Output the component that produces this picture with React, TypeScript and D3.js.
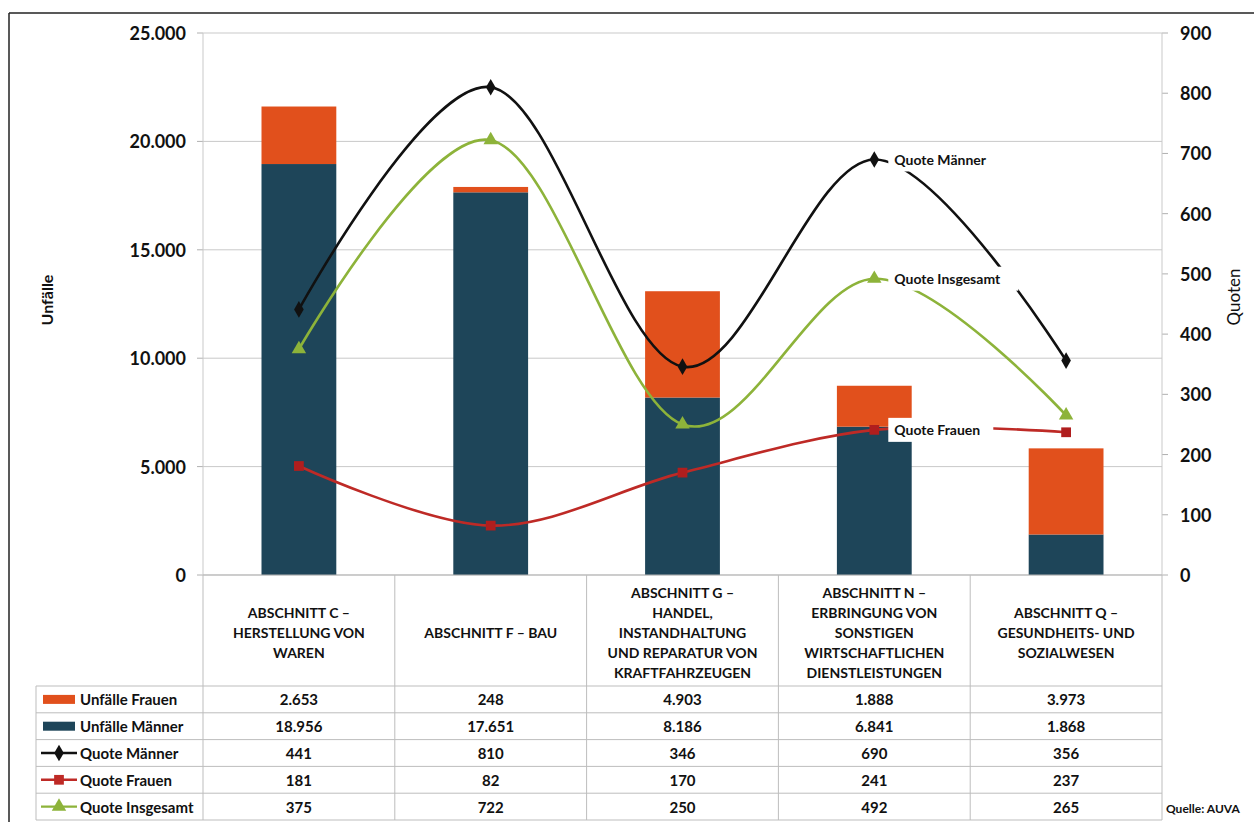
import * as d3 from 'd3'

const categories = ['C', 'F', 'G', 'N', 'Q']
const categoryLines = [
  ['ABSCHNITT C –', 'HERSTELLUNG VON', 'WAREN'],
  ['ABSCHNITT F – BAU'],
  ['ABSCHNITT G –', 'HANDEL,', 'INSTANDHALTUNG', 'UND REPARATUR VON', 'KRAFTFAHRZEUGEN'],
  ['ABSCHNITT N –', 'ERBRINGUNG VON', 'SONSTIGEN', 'WIRTSCHAFTLICHEN', 'DIENSTLEISTUNGEN'],
  ['ABSCHNITT Q –', 'GESUNDHEITS- UND', 'SOZIALWESEN'],
]
const unfaelleFrauen = [2653, 248, 4903, 1888, 3973]
const unfaelleMaenner = [18956, 17651, 8186, 6841, 1868]
const quoteMaenner = [441, 810, 346, 690, 356]
const quoteFrauen = [181, 82, 170, 241, 237]
const quoteInsgesamt = [375, 722, 250, 492, 265]
const leftTicks = [0, 5000, 10000, 15000, 20000, 25000]
const rightTicks = [0, 100, 200, 300, 400, 500, 600, 700, 800, 900]

const W = 1254
const H = 822
const FONT = 'Lato, "Open Sans", sans-serif'

const ORANGE = '#E1501C'
const NAVY = '#1E4559'
const BLACK = '#111111'
const RED = '#BE2A26'
const GREEN = '#8DB33A'

const de = d3.formatLocale({ decimal: ',', thousands: '.', grouping: [3], currency: ['', '€'] })
const fmt = de.format(',d')

export default function App() {
  const x = d3.scaleBand<string>().domain(categories).range([203, 1162])
  const bw = x.bandwidth()
  const barW = bw * 0.39
  const cx = (i: number) => (x(categories[i]) as number) + bw / 2
  const yL = d3.scaleLinear().domain([0, 25000]).range([575, 33])
  const yR = d3.scaleLinear().domain([0, 900]).range([575, 33])

  const stackData = categories.map((c, i) => ({ c, m: unfaelleMaenner[i], f: unfaelleFrauen[i] }))
  const stacked = d3.stack<any>().keys(['m', 'f'])(stackData)
  const barColor: Record<string, string> = { m: NAVY, f: ORANGE }

  const line = d3.line<number>()
    .x((_, i) => cx(i))
    .y(d => yR(d))
    .curve(d3.curveCardinal.tension(0))

  const diamond = d3.symbol().type(d3.symbolDiamond).size(80)()
  const square = d3.symbol().type(d3.symbolSquare).size(95)()
  const triangle = d3.symbol().type(d3.symbolTriangle).size(90)()

  const lines = [
    { name: 'Quote Frauen', values: quoteFrauen, color: RED, marker: square, mColor: '#B01E1E', boxW: 105 },
    { name: 'Quote Männer', values: quoteMaenner, color: BLACK, marker: diamond, mColor: BLACK, boxW: 112 },
    { name: 'Quote Insgesamt', values: quoteInsgesamt, color: GREEN, marker: triangle, mColor: GREEN, boxW: 130 },
  ]

  const rows = [
    { name: 'Unfälle Frauen', values: unfaelleFrauen, kind: 'bar', color: ORANGE, marker: '' },
    { name: 'Unfälle Männer', values: unfaelleMaenner, kind: 'bar', color: NAVY, marker: '' },
    { name: 'Quote Männer', values: quoteMaenner, kind: 'line', color: BLACK, marker: diamond },
    { name: 'Quote Frauen', values: quoteFrauen, kind: 'line', color: RED, marker: square },
    { name: 'Quote Insgesamt', values: quoteInsgesamt, kind: 'line', color: GREEN, marker: triangle },
  ]
  const rowY = d3.scaleBand<string>().domain(rows.map(r => r.name)).range([686, 820])
  const rh = rowY.bandwidth()
  const colEdges = d3.range(categories.length + 1).map(i => 203 + i * bw)

  const labelIdx = 3

  return (
    <svg width={W} height={H} style={{ position: 'absolute', left: 0, top: 0, background: '#fff' }} fontFamily={FONT}>
      {/* frame */}
      <line x1={9} x2={W} y1={13} y2={13} stroke="#222" strokeWidth={1.5} />
      <line x1={9} x2={9} y1={13} y2={H} stroke="#222" strokeWidth={1.5} />

      {/* gridlines */}
      {leftTicks.map(t => (
        <g key={t}>
          <line x1={203} x2={1162} y1={yL(t)} y2={yL(t)} stroke="#c9c9c9" strokeWidth={1} />
          <line x1={197} x2={203} y1={yL(t)} y2={yL(t)} stroke="#b0b0b0" />
          <text x={186} y={yL(t)} textAnchor="end" dominantBaseline="central" fontSize={18} fontWeight={700} fill="#111">
            {fmt(t)}
          </text>
        </g>
      ))}
      {rightTicks.map(t => (
        <g key={t}>
          <line x1={1162} x2={1168} y1={yR(t)} y2={yR(t)} stroke="#b0b0b0" />
          <text x={1180} y={yR(t)} dominantBaseline="central" fontSize={18} fontWeight={700} fill="#111">
            {t}
          </text>
        </g>
      ))}
      <line x1={203} x2={203} y1={33} y2={575} stroke="#c9c9c9" />
      <line x1={1162} x2={1162} y1={33} y2={575} stroke="#c9c9c9" />

      {/* axis titles */}
      <text transform="translate(46,300) rotate(-90)" textAnchor="middle" dominantBaseline="central" fontSize={16} fontWeight={700} fill="#111">
        Unfälle
      </text>
      <text transform="translate(1233,297) rotate(-90)" textAnchor="middle" dominantBaseline="central" fontSize={17} fill="#111">
        Quoten
      </text>

      {/* bars */}
      {stacked.map(layer => (
        <g key={layer.key} fill={barColor[layer.key]}>
          {layer.map((d, i) => (
            <rect key={i} x={cx(i) - barW / 2} width={barW} y={yL(d[1])} height={yL(d[0]) - yL(d[1])} />
          ))}
        </g>
      ))}

      {/* lines */}
      {lines.map(s => (
        <path key={s.name} d={line(s.values) || ''} fill="none" stroke={s.color} strokeWidth={2.6} />
      ))}
      {lines.map(s => (
        <g key={s.name + 'm'} fill={s.mColor}>
          {s.values.map((v, i) => (
            <path key={i} d={s.marker || ''} transform={`translate(${cx(i)},${yR(v)})`} />
          ))}
        </g>
      ))}

      {/* series labels */}
      {lines.map(s => {
        const px = cx(labelIdx)
        const py = yR(s.values[labelIdx])
        return (
          <g key={s.name + 'l'}>
            <rect x={px + 14} y={py - 12} width={s.boxW} height={24} fill="#fff" />
            <text x={px + 20} y={py} dominantBaseline="central" fontSize={14} fontWeight={700} fill="#111">
              {s.name}
            </text>
          </g>
        )
      })}

      {/* data table */}
      <line x1={203} x2={1162} y1={575} y2={575} stroke="#b5b5b5" />
      {colEdges.map((e, i) => (
        <line key={i} x1={e} x2={e} y1={575} y2={820} stroke="#bdbdbd" />
      ))}
      <line x1={36} x2={36} y1={686} y2={820} stroke="#bdbdbd" />
      {[...rows.map(r => rowY(r.name) as number), 820].map((yy, i) => (
        <line key={i} x1={36} x2={1162} y1={yy} y2={yy} stroke="#bdbdbd" />
      ))}

      {categoryLines.map((ls, i) => (
        <text key={i} textAnchor="middle" fontSize={14} fontWeight={700} fill="#111">
          {ls.map((l, j) => (
            <tspan key={j} x={cx(i)} y={632 + (j - (ls.length - 1) / 2) * 20} dominantBaseline="central">
              {l}
            </tspan>
          ))}
        </text>
      ))}

      {rows.map(r => {
        const yc = (rowY(r.name) as number) + rh / 2
        return (
          <g key={r.name}>
            {r.kind === 'bar' ? (
              <rect x={43} y={yc - 4.5} width={32} height={9} fill={r.color} />
            ) : (
              <g>
                <line x1={41} x2={77} y1={yc} y2={yc} stroke={r.color} strokeWidth={2.4} />
                <path d={r.marker} transform={`translate(59,${yc})`} fill={r.color} />
              </g>
            )}
            <text x={80} y={yc} dominantBaseline="central" fontSize={15} fontWeight={700} fill="#111">
              {r.name}
            </text>
            {r.values.map((v, i) => (
              <text key={i} x={cx(i)} y={yc} textAnchor="middle" dominantBaseline="central" fontSize={15} fontWeight={700} fill="#111">
                {fmt(v)}
              </text>
            ))}
          </g>
        )
      })}

      <text x={1166} y={808} dominantBaseline="central" fontSize={12} fontWeight={700} fill="#111">
        Quelle: AUVA
      </text>
    </svg>
  )
}
